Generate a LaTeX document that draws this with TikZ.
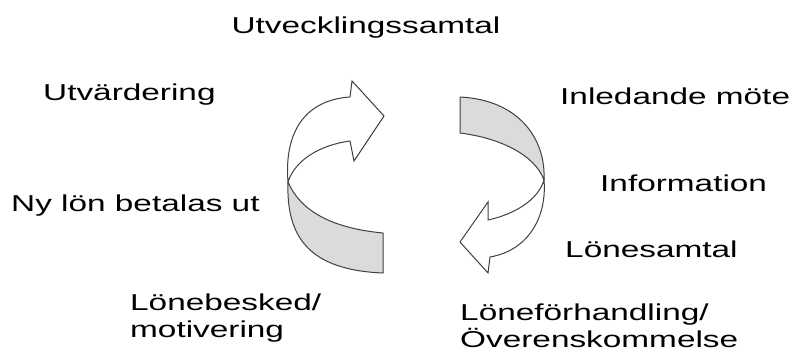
\documentclass[tikz,border=0pt]{standalone}
\usepackage{fontspec}
\setmainfont[FakeStretch=1.45]{Liberation Sans}
\begin{document}
\begin{tikzpicture}[x=1pt, y=-1pt,
        lbl/.style={anchor=base west, inner sep=0pt, align=left, font=\fontsize{23}{27}\selectfont},
        band/.style={draw=black!75, line width=1pt, fill=black!14, line join=round},
        pil/.style={draw=black!75, line width=1pt, fill=white, line join=miter}]
            \useasboundingbox (0,0) rectangle (791,354);
            % Steps, left side
            \node[lbl, anchor=base] (utv) at (366,33) {Utvecklingssamtal};
            \node[lbl] (utvard) at (43,100) {Utvärdering};
            \node[lbl] (nylon) at (11,211) {Ny lön betalas ut};
            % two-line labels: base is the last line
            \node[lbl] (besked) at (130,337) {Lönebesked/\\motivering};
            % Steps, right side
            \node[lbl] (inled) at (560,104) {Inledande möte};
            \node[lbl] (info) at (600,191) {Information};
            \node[lbl] (samtal) at (565,257) {Lönesamtal};
            \node[lbl] (forh) at (460,347) {Löneförhandling/\\Överenskommelse};

            % Left arrow: back side, then front with head
            \coordinate (tv) at (288,182);
            \draw[band] (tv) .. controls (286,238) and (310,270) .. (383,273) -- (383,233)
                .. controls (330,228) and (300,210) .. (tv) -- cycle;
            \draw[pil] (tv) .. controls (284,132) and (305,100) .. (350,97) -- (352,81) -- (384,116)
                -- (354,161) -- (350,141) .. controls (320,145) and (295,160) .. (tv) -- cycle;

            % Right arrow: back side, then front with head
            \coordinate (th) at (544,180);
            \draw[band] (460,97) .. controls (520,100) and (546,140) .. (th)
                .. controls (535,155) and (500,138) .. (460,133) -- cycle;
            \draw[pil] (th) .. controls (547,215) and (530,250) .. (490,257) -- (488,273) -- (460,242)
                -- (488,202) -- (488,220) .. controls (515,214) and (538,200) .. (th) -- cycle;
        \end{tikzpicture}
\end{document}
